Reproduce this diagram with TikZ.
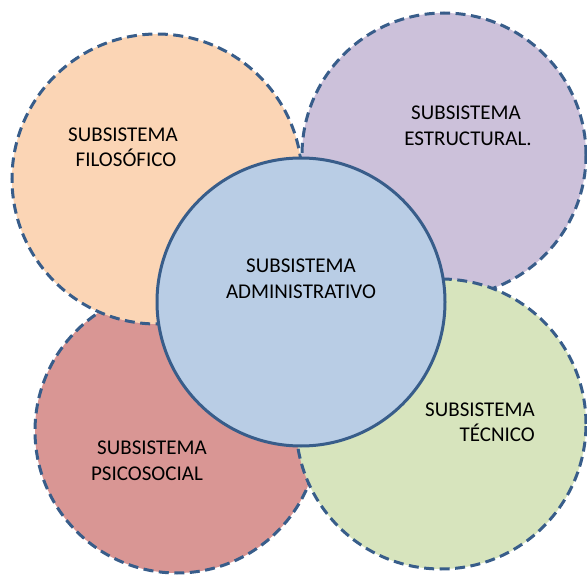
\documentclass[tikz,border=0pt]{standalone}
\usepackage{fontspec}
\setmainfont{Carlito}
\definecolor{cOrange}{HTML}{FBD5B5}
\definecolor{cPurple}{HTML}{CCC1DA}
\definecolor{cRed}{HTML}{D99694}
\definecolor{cGreen}{HTML}{D7E4BD}
\definecolor{cBlue}{HTML}{B9CDE5}
\definecolor{cEdge}{HTML}{385D8A}
\begin{document}
\begin{tikzpicture}[x=1pt,y=1pt,
  outer/.style={circle,draw=cEdge,line width=3pt,dash pattern=on 10pt off 5.5pt,inner sep=0pt},
  inner/.style={circle,draw=cEdge,line width=3pt,inner sep=0pt},
  lbl/.style={anchor=base,inner sep=0pt,font=\fontsize{21}{26}\selectfont,text=black}]
\useasboundingbox (0,0) rectangle (587,574);
\node[outer,fill=cRed,minimum size=284pt] (red) at (177,143) {};
\node[outer,fill=cPurple,minimum size=284pt] (purple) at (444,419) {};
\node[outer,fill=cGreen,minimum size=290pt] (green) at (441,150) {};
\node[outer,fill=cOrange,minimum size=290pt] (orange) at (157,395) {};
\node[inner,fill=cBlue,minimum size=288pt] (blue) at (301,272) {};
% labels
\node[lbl] (o1) at (123,432) {SUBSISTEMA};
\node[lbl] (o2) at (126,407) {FILOSÓFICO};
\node[lbl] (p1) at (466,454) {SUBSISTEMA};
\node[lbl] (p2) at (468,428) {ESTRUCTURAL.};
\node[lbl] (b1) at (301,301) {SUBSISTEMA};
\node[lbl] (b2) at (301,275) {ADMINISTRATIVO};
\node[lbl] (r1) at (152,120) {SUBSISTEMA};
\node[lbl] (r2) at (147,94) {PSICOSOCIAL};
\node[lbl,anchor=base east] (g1) at (535,158) {SUBSISTEMA};
\node[lbl,anchor=base east] (g2) at (535,133) {TÉCNICO};
\end{tikzpicture}
\end{document}
